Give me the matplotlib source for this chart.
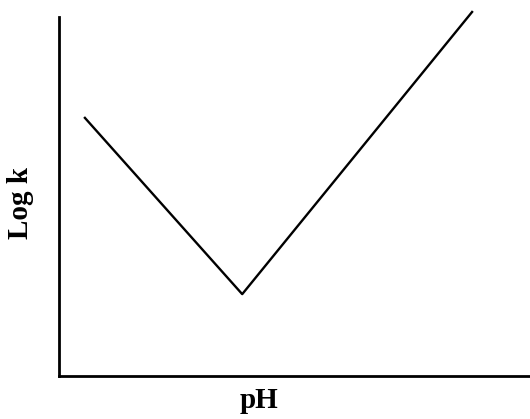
import matplotlib
matplotlib.use('Agg')
import matplotlib.pyplot as plt

plt.rcParams['font.family'] = ['Liberation Serif', 'DejaVu Serif']

# V-shaped curve: log k vs pH (arbitrary units)
ph = [0.55, 3.89, 8.77]
log_k = [7.19, 2.28, 10.14]

fig = plt.figure(figsize=(5.3, 4.19), dpi=100)
ax = fig.add_axes([59 / 530, 43 / 419, 471 / 530, 359 / 419])

ax.plot(ph, log_k, color='black', linewidth=1.7, clip_on=False)

ax.set_xlim(0, 10)
ax.set_ylim(0, 10)
ax.set_xticks([])
ax.set_yticks([])
ax.spines['top'].set_visible(False)
ax.spines['right'].set_visible(False)
ax.spines['left'].set_linewidth(2)
ax.spines['bottom'].set_linewidth(2)

fig.text(259 / 530, 1 - 400 / 419, 'pH', ha='center', va='center',
         fontsize=21, fontweight='bold')
fig.text(21 / 530, 1 - 203 / 419, 'Log k', ha='center', va='center',
         rotation=90, fontsize=21, fontweight='bold')

fig.savefig('out.png', dpi=100)
